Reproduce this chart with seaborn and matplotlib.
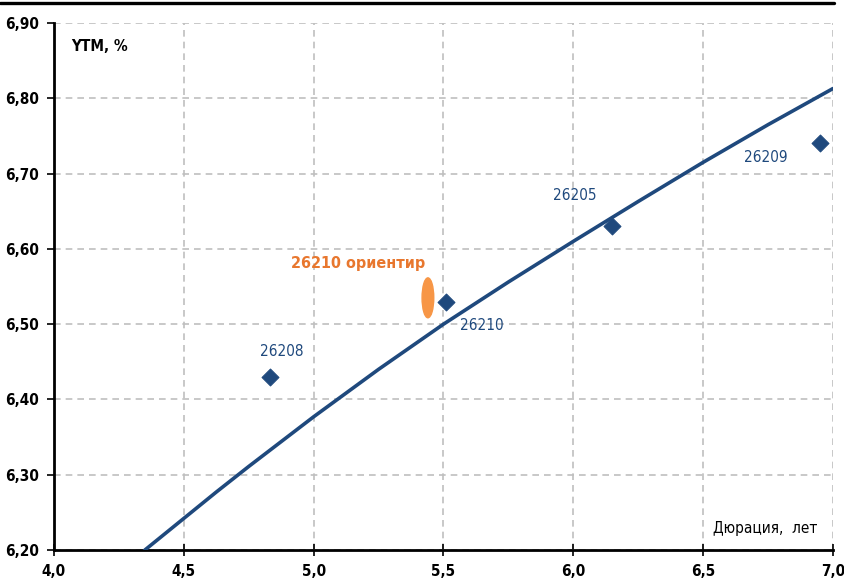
import matplotlib
matplotlib.use("Agg")
import matplotlib.pyplot as plt
import seaborn as sns
import pandas as pd
from matplotlib.patches import Ellipse
from matplotlib.lines import Line2D
from matplotlib.ticker import FuncFormatter

# curve
curve_x = [4.35, 4.5, 4.625, 4.75, 4.875, 5.0, 5.25, 5.5, 5.75, 6.0, 6.25, 6.5, 6.75, 7.0]
curve_y = [6.200, 6.242, 6.277, 6.311, 6.344, 6.377, 6.440, 6.500, 6.556, 6.610, 6.663, 6.715, 6.765, 6.813]

# bonds
bond_names = ["26208", "26210", "26205", "26209"]
bond_dur = [4.83, 5.51, 6.15, 6.95]
bond_ytm = [6.43, 6.53, 6.63, 6.74]

# guidance
guide_label = "26210 ориентир"
guide_dur = 5.44
guide_ytm = 6.535

sns.set_theme(style="white")
plt.rcParams['font.family'] = ['DejaVu Sans']
plt.rcParams['font.stretch'] = 'condensed'

navy = "#1F497D"
orange = "#F79646"

fig = plt.figure(figsize=(8.45, 5.8), dpi=100)
ax = fig.add_axes([0.0639, 0.0517, 0.9219, 0.9086])

curve_df = pd.DataFrame({"x": curve_x, "y": curve_y})
bond_df = pd.DataFrame({"name": bond_names, "x": bond_dur, "y": bond_ytm})

sns.lineplot(data=curve_df, x="x", y="y", ax=ax, color=navy, linewidth=2.6, zorder=3)
sns.scatterplot(data=bond_df, x="x", y="y", ax=ax, marker="D", s=75, color=navy,
                edgecolor=navy, zorder=4)

ax.add_patch(Ellipse((guide_dur, guide_ytm), 0.045, 0.053, color=orange, zorder=4))

ax.set_xlim(4.0, 7.0)
ax.set_ylim(6.20, 6.90)
ax.set_xticks([4.0, 4.5, 5.0, 5.5, 6.0, 6.5, 7.0])
ax.set_yticks([6.2, 6.3, 6.4, 6.5, 6.6, 6.7, 6.8, 6.9])
ax.xaxis.set_major_formatter(FuncFormatter(lambda v, p: f"{v:.1f}".replace(".", ",")))
ax.yaxis.set_major_formatter(FuncFormatter(lambda v, p: f"{v:.2f}".replace(".", ",")))
ax.set_xlabel("")
ax.set_ylabel("")

ax.grid(True, color="#BFBFBF", linestyle=(0, (4, 3)), linewidth=1.2)
ax.set_axisbelow(True)
for s in ["top", "right"]:
    ax.spines[s].set_visible(False)
for s in ["left", "bottom"]:
    ax.spines[s].set_visible(True)
    ax.spines[s].set_color("black")
    ax.spines[s].set_linewidth(2)

ax.tick_params(axis="y", which="major", direction="out", length=5, width=1.2,
               colors="black", labelsize=11, pad=6, left=True)
ax.tick_params(axis="x", which="major", direction="inout", length=8, width=1.2,
               colors="black", labelsize=11, pad=6, bottom=True)
for lab in ax.get_xticklabels() + ax.get_yticklabels():
    lab.set_fontweight("bold")

lbl_font = dict(fontsize=11, color=navy)
ax.annotate("26208", (4.83, 6.43), xytext=(9, 18), textcoords="offset points", ha="center", va="center", **lbl_font)
ax.annotate("26210", (5.51, 6.53), xytext=(26, -17), textcoords="offset points", ha="center", va="center", **lbl_font)
ax.annotate("26205", (6.15, 6.63), xytext=(-27, 22), textcoords="offset points", ha="center", va="center", **lbl_font)
ax.annotate("26209", (6.95, 6.74), xytext=(-39, -10), textcoords="offset points", ha="center", va="center", **lbl_font)
ax.annotate(guide_label, (guide_dur, guide_ytm), xytext=(-50, 25), textcoords="offset points",
            ha="center", va="center", fontsize=11.5, color="#E8772E", fontweight="bold")

ax.text(0.022, 0.955, "YTM, %", transform=ax.transAxes, fontsize=11, fontweight="bold",
        color="black", ha="left", va="center")
ax.text(0.980, 0.040, "Дюрация,  лет", transform=ax.transAxes, fontsize=11,
        color="black", ha="right", va="center")

fig.add_artist(Line2D([0, 0.987], [0.9945, 0.9945], transform=fig.transFigure,
                      color="black", linewidth=2.4))

fig.savefig("out.png", dpi=100)
